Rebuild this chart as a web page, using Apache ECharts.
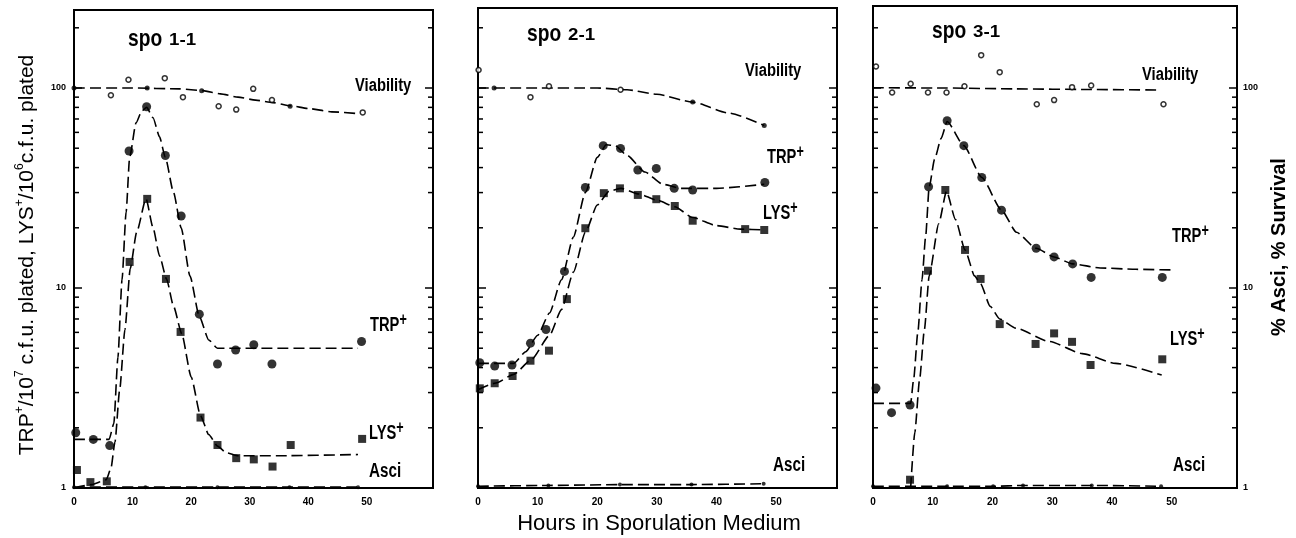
<!DOCTYPE html>
<html>
<head>
<meta charset="utf-8">
<script src="https://cdn.jsdelivr.net/npm/echarts@6/dist/echarts.min.js"></script>
<style>
  html, body { margin: 0; padding: 0; background: #fff; }
  #main { width: 1296px; height: 538px; }
</style>
</head>
<body>
<div id="main"></div>
<script>
// hours in sporulation medium
var xTicks = [0, 10, 20, 30, 40, 50];
var yTickLabels = [1, 10, 100];
var majorTicks = [10, 100];
var minorTicks = [2, 3, 4, 5, 6, 7, 8, 9, 20, 30, 40, 50, 60, 70, 80, 90, 200];

// spo 1-1
var via1Open = [[6.3, 92], [9.3, 110], [15.5, 112], [18.6, 90], [24.7, 81], [27.7, 78], [30.6, 99], [33.8, 87], [49.3, 75.5]];
var via1Dot = [[0, 100], [12.5, 100], [21.8, 97], [36.9, 81]];
var via1Fit = [[0, 100], [10, 100], [18, 99], [22, 97], [25, 93.5], [28, 90], [31, 87], [34, 84.5], [37, 81.5], [40, 79], [44, 76], [48.5, 74.5]];
var trp1 = [[0.3, 1.89], [3.3, 1.75], [6.1, 1.63], [9.4, 48.4], [12.4, 80.6], [15.6, 46], [18.3, 22.9], [21.4, 7.4], [24.5, 4.17], [27.6, 4.9], [30.7, 5.2], [33.8, 4.17], [49.1, 5.4]];
var trp1Fit = [[0, 1.75], [6, 1.75], [6.8, 2.1], [7.5, 4.5], [8.2, 11], [8.9, 24], [9.5, 45], [10.6, 67], [11.6, 77], [12.4, 80], [13.5, 71], [14.6, 57], [15.6, 45], [17, 30], [18.3, 20], [19.8, 11.5], [21.4, 7.2], [23, 5.5], [24.5, 5.0], [30, 5.0], [48.5, 5.0]];
var lys1 = [[0.5, 1.23], [2.8, 1.07], [5.6, 1.08], [9.5, 13.5], [12.5, 27.9], [15.7, 11.1], [18.2, 6.03], [21.6, 2.25], [24.5, 1.64], [27.7, 1.41], [30.7, 1.39], [33.9, 1.28], [37, 1.64], [49.2, 1.76]];
var lys1Fit = [[0, 1.0], [3, 1.04], [5.5, 1.1], [6.3, 1.25], [7, 1.7], [7.8, 3.1], [8.7, 6.2], [9.6, 12.5], [10.7, 19], [12.3, 28], [13.5, 20], [14.6, 14.5], [15.8, 11.1], [17, 8.1], [18.4, 5.9], [20, 3.6], [21.6, 2.3], [23, 1.85], [24.5, 1.62], [26, 1.5], [28, 1.45], [35, 1.45], [48.5, 1.47]];
var asci1 = [[0, 1.01], [12.2, 1.01], [24.5, 1.01], [36.8, 1.01], [48.5, 1.01]];

// spo 2-1
var via2Open = [[0.1, 123], [8.8, 90], [11.9, 102], [23.9, 98]];
var via2Dot = [[2.7, 100], [36, 85], [48, 65]];
var via2Fit = [[0, 100], [10, 100], [20, 100], [25, 98], [30, 93], [36, 85], [42, 75], [48, 65]];
var trp2 = [[0.3, 4.23], [2.8, 4.07], [5.7, 4.12], [8.8, 5.3], [11.4, 6.2], [14.5, 12.1], [18, 31.8], [21, 51.5], [23.9, 49.9], [26.8, 38.9], [29.9, 39.6], [32.9, 31.5], [36, 30.9], [48.1, 33.7]];
var trp2Fit = [[0, 4.2], [6, 4.2], [8, 4.8], [10, 5.8], [12, 7.5], [14, 11], [16, 18], [18, 30], [20, 45], [21.5, 52], [23, 51.5], [25, 46], [28, 38], [31, 33], [34, 31.5], [40, 31.5], [48, 33]];
var lys2 = [[0.3, 3.15], [2.8, 3.34], [5.8, 3.63], [8.8, 4.33], [11.9, 4.86], [14.9, 8.8], [18, 19.9], [21.1, 29.8], [23.8, 31.5], [26.8, 29.2], [29.9, 27.8], [33, 25.7], [36, 21.7], [44.8, 19.7], [48, 19.5]];
var lys2Fit = [[0, 3.1], [3, 3.35], [6, 3.7], [9, 4.4], [12, 5.8], [14, 7.8], [16, 12], [18, 19], [20, 26], [22, 30.5], [24, 31.5], [27, 29.5], [30, 27.5], [33, 25.5], [36, 22.5], [40, 20.5], [44, 19.7], [48, 19.5]];
var asci2 = [[0, 1.02], [11.8, 1.03], [23.8, 1.04], [35.8, 1.04], [47.9, 1.05]];

// spo 3-1
var via3Open = [[0.5, 128], [3.2, 95], [6.3, 105], [9.2, 95], [12.3, 95], [15.3, 102], [18.1, 146], [21.2, 120], [27.4, 83], [30.3, 87], [33.3, 101], [36.5, 103], [48.6, 83]];
var via3Fit = [[0, 100.3], [12, 100], [24, 99], [36, 98.3], [48, 97.7]];
var trp3 = [[0.5, 3.16], [3.1, 2.38], [6.2, 2.6], [9.3, 32.1], [12.4, 68.6], [15.2, 51.5], [18.2, 35.7], [21.5, 24.5], [27.3, 15.8], [30.3, 14.3], [33.4, 13.2], [36.5, 11.3], [48.4, 11.3]];
var trp3Fit = [[0, 2.65], [6.3, 2.65], [6.8, 3.5], [7.5, 6], [8.2, 11], [8.8, 18], [9.4, 32], [10.3, 44], [11.4, 56], [12.4, 68], [15.2, 51.5], [18.2, 35.7], [21.5, 24.5], [24, 19], [27.3, 15.8], [30.3, 14.3], [33.4, 13.2], [38, 12.6], [44, 12.4], [50.5, 12.3]];
var lys3 = [[6.2, 1.1], [9.2, 12.2], [12.1, 30.9], [15.4, 15.5], [18, 11.1], [21.2, 6.6], [27.2, 5.25], [30.3, 5.93], [33.3, 5.38], [36.4, 4.12], [48.4, 4.4]];
var lys3Fit = [[6.3, 1.0], [7, 1.9], [7.8, 3.5], [8.6, 6.2], [9.4, 11.5], [11, 21], [12.3, 30.5], [13.8, 22], [15.4, 15.5], [17, 11.5], [18, 10.5], [19.6, 8.1], [21.2, 7.0], [23.9, 6.3], [29.5, 5.4], [35, 4.7], [40.6, 4.2], [48.3, 3.67]];
var asci3 = [[0, 1.02], [12.4, 1.02], [20.1, 1.02], [25.1, 1.03], [36.6, 1.03], [48.2, 1.02]];

var panels = [
  { via: via1Open, viaDot: via1Dot, viaFit: via1Fit, trp: trp1, trpFit: trp1Fit, lys: lys1, lysFit: lys1Fit, asci: asci1 },
  { via: via2Open, viaDot: via2Dot, viaFit: via2Fit, trp: trp2, trpFit: trp2Fit, lys: lys2, lysFit: lys2Fit, asci: asci2 },
  { via: via3Open, viaDot: [], viaFit: via3Fit, trp: trp3, trpFit: trp3Fit, lys: lys3, lysFit: lys3Fit, asci: asci3 }
];

var cond = "'Liberation Sans', Arial, sans-serif";
var dash = [11, 5];

var tickData = minorTicks.concat(majorTicks).map(function (v) { return [0, v]; });

// log minor ticks on both sides of each frame
function tickRender(params, api) {
  var cs = params.coordSys;
  var v = api.value(1);
  var y = api.coord([0, v])[1];
  var len = majorTicks.indexOf(v) >= 0 ? 8 : 5;
  var st = { stroke: '#000', lineWidth: 1.5 };
  return {
    type: 'group',
    children: [
      { type: 'line', shape: { x1: cs.x, y1: y, x2: cs.x + len, y2: y }, style: st },
      { type: 'line', shape: { x1: cs.x + cs.width, y1: y, x2: cs.x + cs.width - len, y2: y }, style: st }
    ]
  };
}

var grids = [], xAxes = [], yAxes = [], series = [];
var gLeft = [74, 478, 873], gWidth = [359, 359, 364], gTop = [10, 8, 6], xMax = [61.3, 60.2, 60.9];

for (var i = 0; i < 3; i++) {
  var p = panels[i];
  grids.push({ left: gLeft[i], top: gTop[i], width: gWidth[i], height: 488 - gTop[i],
    show: true, borderColor: '#000', borderWidth: 2, backgroundColor: 'transparent' });
  xAxes.push({
    gridIndex: i, type: 'value', min: 0, max: xMax[i], interval: 10,
    axisLine: { show: false }, axisTick: { show: false }, splitLine: { show: false },
    axisLabel: {
      margin: 9, color: '#000', fontSize: 10, fontWeight: 'bold', fontFamily: 'Liberation Sans',
      formatter: function (v) { return xTicks.indexOf(v) >= 0 ? String(v) : ''; }
    }
  });
  yAxes.push({
    gridIndex: i, type: 'log', logBase: 10, min: 1, max: Math.pow(10, (488 - gTop[i]) / 200),
    position: i === 2 ? 'right' : 'left',
    axisLine: { show: false }, axisTick: { show: false }, splitLine: { show: false }, minorTick: { show: false },
    axisLabel: {
      show: i !== 1, margin: i === 2 ? 6 : 8, color: '#000', fontSize: 9, fontWeight: 'bold', fontFamily: 'Liberation Sans',
      formatter: function (v) {
        var r = Math.round(v);
        return (Math.abs(v - r) < 0.01 && yTickLabels.indexOf(r) >= 0) ? String(r) : '';
      }
    }
  });

  series.push({ type: 'custom', xAxisIndex: i, yAxisIndex: i, data: tickData, renderItem: tickRender, silent: true, z: 1 });

  [p.viaFit, p.trpFit, p.lysFit, p.asci].forEach(function (d) {
    series.push({
      type: 'line', xAxisIndex: i, yAxisIndex: i, data: d, showSymbol: false,
      smooth: 0.2, smoothMonotone: 'x', silent: true,
      lineStyle: { color: '#000', width: 1.6, type: dash }
    });
  });

  series.push({ type: 'scatter', xAxisIndex: i, yAxisIndex: i, data: p.via, symbol: 'circle', symbolSize: 5,
    itemStyle: { color: '#fff', borderColor: '#000', borderWidth: 1.5 }, z: 5 });
  series.push({ type: 'scatter', xAxisIndex: i, yAxisIndex: i, data: p.viaDot, symbol: 'circle', symbolSize: 5,
    itemStyle: { color: '#000' }, z: 5 });
  series.push({ type: 'scatter', xAxisIndex: i, yAxisIndex: i, data: p.trp, symbol: 'circle', symbolSize: 9,
    itemStyle: { color: '#000' }, z: 5 });
  series.push({ type: 'scatter', xAxisIndex: i, yAxisIndex: i, data: p.lys, symbol: 'rect', symbolSize: 8,
    itemStyle: { color: '#000' }, z: 5 });
  series.push({ type: 'scatter', xAxisIndex: i, yAxisIndex: i, data: p.asci, symbol: 'circle', symbolSize: 4,
    itemStyle: { color: '#000' }, z: 5 });
}

// condensed bold labels: squeeze horizontally
function label(x, y, text, size, sx) {
  return { type: 'text', x: x, y: y, scaleX: sx, style: { text: text, fill: '#000', font: 'bold ' + size + 'px ' + cond,
    textAlign: 'left', textVerticalAlign: 'middle' } };
}
function supLabel(x, y, base) {
  return { type: 'text', x: x, y: y, scaleX: 0.7, style: {
    text: '{a|' + base + '}{s|+}', textAlign: 'left', textVerticalAlign: 'middle',
    rich: {
      a: { fontSize: 21, fontWeight: 'bold', fontFamily: cond, lineHeight: 28, color: '#000' },
      s: { fontSize: 18, fontWeight: 'bold', fontFamily: cond, lineHeight: 14, verticalAlign: 'top', color: '#000' }
    } } };
}
function title(x, y, num) {
  return [
    { type: 'text', x: x, y: y, scaleX: 0.8, style: { text: 'spo', fill: '#000', font: 'bold 24px ' + cond,
      textAlign: 'left', textVerticalAlign: 'middle' } },
    { type: 'text', x: x + 41, y: y + 1, scaleX: 1.1, style: { text: num, fill: '#000', font: 'bold 17px ' + cond,
      textAlign: 'left', textVerticalAlign: 'middle' } }
  ];
}

var graphics = [].concat(
  title(128, 39, '1-1'), title(527, 34, '2-1'), title(932, 31, '3-1'),
  [
    label(355, 86, 'Viability', 18, 0.82), label(745, 71, 'Viability', 18, 0.82), label(1142, 75, 'Viability', 18, 0.82),
    supLabel(370, 325, 'TRP'), supLabel(767, 157, 'TRP'), supLabel(1172, 236, 'TRP'),
    supLabel(369, 433, 'LYS'), supLabel(763, 213, 'LYS'), supLabel(1170, 339, 'LYS'),
    label(369, 471, 'Asci', 20, 0.76), label(773, 465, 'Asci', 20, 0.76), label(1173, 465, 'Asci', 20, 0.76),
    { type: 'text', x: 659, y: 524, style: { text: 'Hours in Sporulation Medium', fill: '#000',
      font: '22px Liberation Sans', textAlign: 'center', textVerticalAlign: 'middle' } },
    { type: 'text', x: 1279, y: 247, rotation: Math.PI / 2, style: { text: '% Asci, % Survival', fill: '#000',
      font: 'bold 20px Liberation Sans', textAlign: 'center', textVerticalAlign: 'middle' } },
    { type: 'text', x: 27, y: 255, rotation: Math.PI / 2, style: {
      text: '{n|TRP}{s|+}{n|/10}{s|7}{n| c.f.u. plated, LYS}{s|+}{n|/10}{s|6}{n|c.f.u. plated}',
      textAlign: 'center', textVerticalAlign: 'middle',
      rich: {
        n: { fontSize: 21, fontFamily: 'Liberation Sans', lineHeight: 26, color: '#000' },
        s: { fontSize: 12, fontFamily: 'Liberation Sans', lineHeight: 12, verticalAlign: 'top', color: '#000' }
      } } }
  ]
);

var myChart = echarts.init(document.getElementById('main'));
myChart.setOption({
  animation: false,
  backgroundColor: '#fff',
  grid: grids,
  xAxis: xAxes,
  yAxis: yAxes,
  series: series,
  graphic: graphics
});
</script>
</body>
</html>
